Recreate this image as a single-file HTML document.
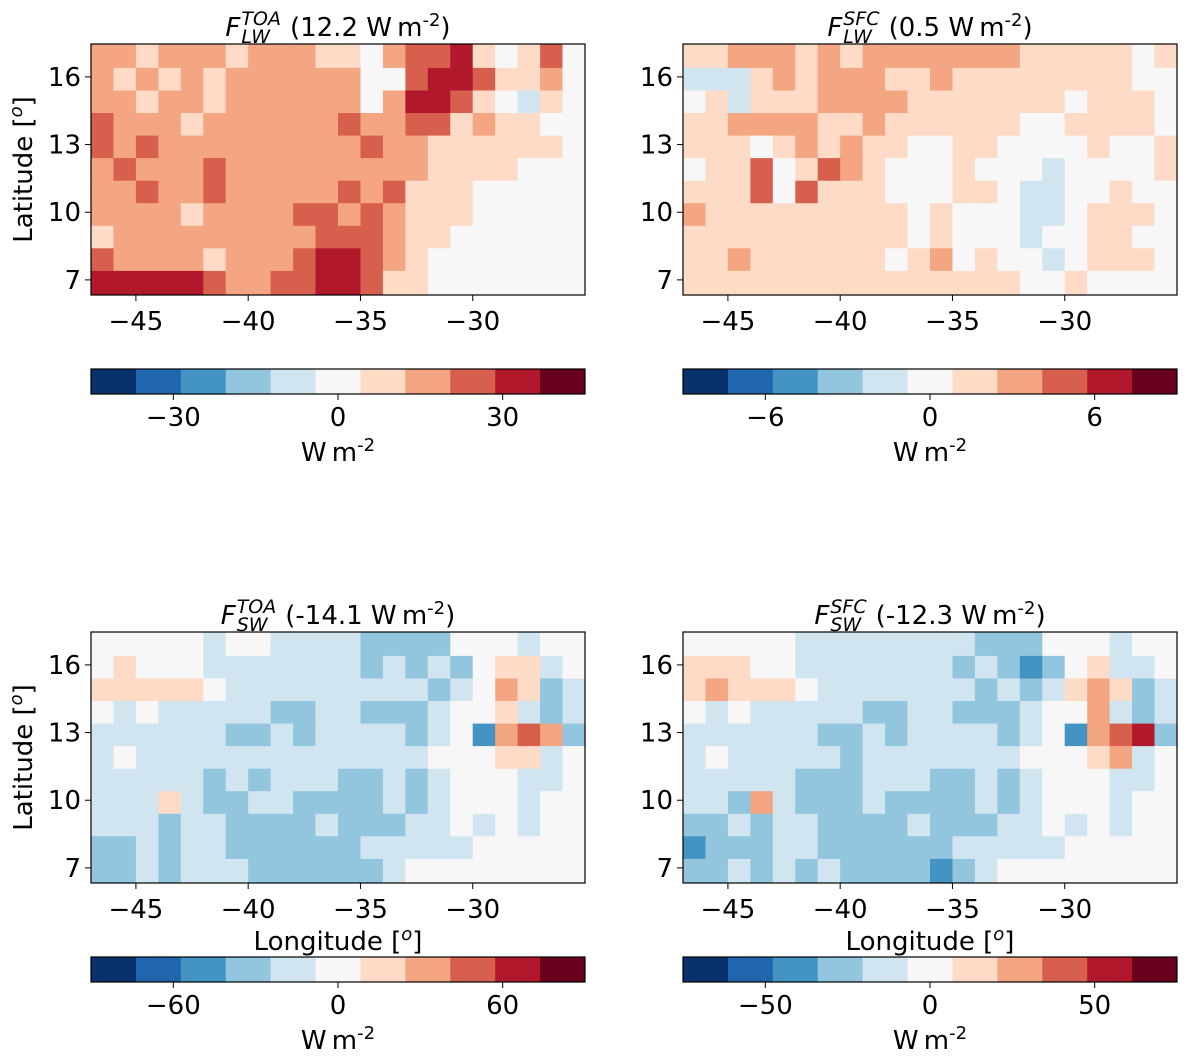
<!DOCTYPE html>
<html><head><meta charset="utf-8"><style>
body{margin:0;background:#fff;width:1188px;height:1058px;overflow:hidden}
svg text{font-family:"DejaVu Sans","Liberation Sans",sans-serif;fill:#000}
</style></head><body>
<svg id="fig" width="1188" height="1058" xmlns="http://www.w3.org/2000/svg"></svg>
<script>
// Data: 11 rows (lat 17.4 -> 6.4) x 22 cols (lon -47 -> -25); chars = color level index (0..10, 'a'=10, 5=neutral)
const lwToa = ["7767776777665788965685","7676767777775589986675","7767767777775799865465","8777677777787788676655","8787777777778776666665","7877787777777776666555","7787787777787866655555","7777677778878766655555","6777777777888766555555","8777767778998765555555","9999987788998665555555"];
const lwSfc = ["6677767677777776666656","4446767776676666666655","5646667777666666656665","6677776676666665566665","6665676766556655556556","5668568765556555455556","6668586665556654455655","7666666666565554456665","6666666666565554556655","6676666665675655456665","6666666666666665565555"];
const swToa = ["5555545544443333555455","5655544444443434356645","6666654444444443457634","5454444433443334556434","4444443343444434527873","4544444444444445556645","4444434344433434555445","4446433443333434555455","4443443333433344545455","3343443333334444455555","3343444333333455555555"];
const swSfc = ["5555544444444333555455","6665544444443432356445","6766654444444343467634","5454444433443334557434","4444443343444434527893","4544444344444445556745","4444433344433434555445","4437433343333434555455","3343443333433344545455","2333443333334444455555","3343434333323455555555"];
const levelColors = ["#08306b","#2166ac","#4393c3","#92c5de","#d1e5f0","#f7f7f7","#fddbc7","#f4a582","#d6604d","#b2182b","#67001f"];
const lonTicks = [-45,-40,-35,-30];
const latTicks = [16,13,10,7];
const titleSub = ["LW","LW","SW","SW"];
const titleSup = ["TOA","SFC","TOA","SFC"];
const titleVal = ["12.2","0.5","-14.1","-12.3"];
const cbTicks = [[-30,0,30],[-6,0,6],[-60,0,60],[-50,0,50]];
const cbMax = [45,9,90,75];

const NS="http://www.w3.org/2000/svg";
const svg=document.getElementById('fig');
function mk(tag,attrs,parent){const e=document.createElementNS(NS,tag);for(const k in attrs)e.setAttribute(k,attrs[k]);(parent||svg).appendChild(e);return e;}
const LON0=-47, LON1=-25, LAT0=6.33, LAT1=17.46;
const panels=[{x:91,y:44,d:lwToa},{x:683,y:44,d:lwSfc},{x:91,y:632,d:swToa},{x:683,y:632,d:swSfc}];
const W=494,H=251,FS=26;
panels.forEach((p,i)=>{
  const g=mk('g',{});
  
  
  const sx=lon=>p.x+(lon-LON0)/(LON1-LON0)*W;
  const sy=lat=>p.y+(LAT1-lat)/(LAT1-LAT0)*H;
  mk('rect',{x:p.x,y:p.y,width:W,height:H,fill:'#f7f7f7'},g);
  p.d.forEach((row,r)=>{
    const latTop=17.4-r, latBot=latTop-1;
    for(let c=0;c<row.length;c++){
      const lv=parseInt(row[c],16);
      const x0=sx(LON0+c), x1=sx(LON0+c+1);
      const y0=sy(Math.min(latTop+(r==0?0.06:0),LAT1)), y1=sy(r==10?LAT0+0.02:latBot);
      const cell=mk('rect',{x:x0.toFixed(1),y:y0.toFixed(1),width:(x1-x0+0.6).toFixed(1),height:(y1-y0+0.6).toFixed(1),fill:levelColors[lv]},g);
      
      
    }
  });
  mk('rect',{x:p.x,y:p.y,width:W,height:H,fill:'none',stroke:'#000','stroke-width':1.2},g);
  lonTicks.forEach(t=>{const x=sx(t);mk('line',{x1:x,x2:x,y1:p.y+H,y2:p.y+H+6,stroke:'#000'},g);
    const tx=mk('text',{x:x,y:p.y+H+35,'font-size':FS,'text-anchor':'middle'},g);tx.textContent='\u2212'+Math.abs(t);
    });
  latTicks.forEach(t=>{const y=sy(t);mk('line',{x1:p.x-6,x2:p.x,y1:y,y2:y,stroke:'#000'},g);
    const tx=mk('text',{x:p.x-10,y:y+9,'font-size':FS,'text-anchor':'end'},g);tx.textContent=t;
    });
  // title
  const tg=mk('g',{},g);
  
  const base=p.y-8;
  const f=mk('text',{x:0,y:base,'font-size':FS,'font-style':'italic'},tg);f.textContent='F';
  const fw=f.getComputedTextLength()+1;
  const sp=mk('text',{x:fw,y:base-11,'font-size':19,'font-style':'italic'},tg);sp.textContent=titleSup[i];
  const sb=mk('text',{x:fw,y:base+7,'font-size':19,'font-style':'italic'},tg);sb.textContent=titleSub[i];
  const off=fw+Math.max(sp.getComputedTextLength(),sb.getComputedTextLength())+9;
  const rest=mk('text',{x:off,y:base,'font-size':FS},tg);
  rest.innerHTML='('+titleVal[i]+' W\u2009m<tspan font-size="18" dy="-10">-2</tspan><tspan dy="10">)</tspan>';
  const tw=off+rest.getComputedTextLength();
  tg.setAttribute('transform','translate('+(p.x+W/2-tw/2)+',0)');
  if(i%2==0){const yl=mk('text',{x:0,y:0,'font-size':FS,'text-anchor':'middle',transform:'translate(32,'+(p.y+H/2)+') rotate(-90)'},g);
    yl.innerHTML='Latitude [<tspan font-style="italic" font-size="18" dy="-10">o</tspan><tspan dy="10">]</tspan>';
    }
  if(i>=2){const xl=mk('text',{x:p.x+W/2,y:p.y+H+67,'font-size':FS,'text-anchor':'middle'},g);
    xl.innerHTML='Longitude [<tspan font-style="italic" font-size="18" dy="-10">o</tspan><tspan dy="10">]</tspan>';
    }
  // colorbar
  const cy=(i<2)?369:957, ch=25;
  const cb=mk('g',{},svg);
  
  const bw=W/11;
  levelColors.forEach((col,k)=>{const r=mk('rect',{x:(p.x+k*bw).toFixed(1),y:cy,width:(bw+0.5).toFixed(1),height:ch,fill:col},cb);
    });
  mk('rect',{x:p.x,y:cy,width:W,height:ch,fill:'none',stroke:'#000','stroke-width':1.2},cb);
  const cx=v=>p.x+W/2+v/cbMax[i]*(W/2);
  cbTicks[i].forEach(v=>{const x=cx(v);mk('line',{x1:x,x2:x,y1:cy+ch,y2:cy+ch+6,stroke:'#000'},cb);
    const tx=mk('text',{x:x,y:cy+ch+32,'font-size':FS,'text-anchor':'middle'},cb);tx.textContent=(v<0?'\u2212':'')+Math.abs(v);
    });
  const ul=mk('text',{x:p.x+W/2,y:cy+ch+67,'font-size':FS,'text-anchor':'middle'},cb);
  ul.innerHTML='W\u2009m<tspan font-size="18" dy="-10">-2</tspan>';
  
});
</script>
</body></html>
